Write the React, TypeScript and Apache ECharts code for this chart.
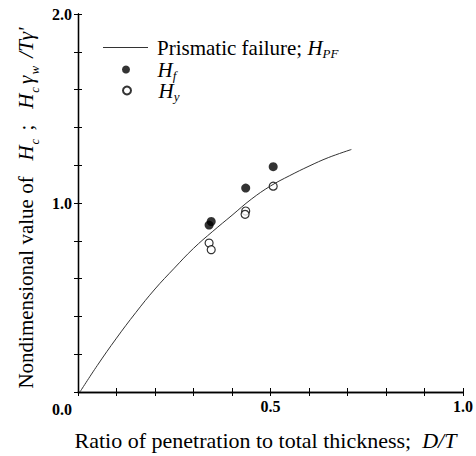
import React, { useEffect, useRef } from "react";
import * as echarts from "echarts";

const curveX = [0.005, 0.05, 0.1, 0.15, 0.2, 0.25, 0.3, 0.35, 0.4, 0.45, 0.5, 0.55, 0.6, 0.65, 0.71];
const curveY = [0, 0.14, 0.285, 0.42, 0.545, 0.655, 0.76, 0.85, 0.935, 1.02, 1.09, 1.145, 1.195, 1.24, 1.283];

const hfX = [0.3405, 0.346, 0.4356, 0.507];
const hfY = [0.883, 0.902, 1.079, 1.192];

const hyX = [0.3405, 0.346, 0.4356, 0.434, 0.507];
const hyY = [0.788, 0.753, 0.9575, 0.94, 1.089];

const xTickLabels = ["0.5", "1.0"];
const yTickLabels = ["1.0", "2.0"];
const originLabel = "0.0";

const seriesNames = ["Prismatic failure; HPF", "Hf", "Hy"];
const legendRich: Record<string, string> = {
  "Prismatic failure; HPF": "Prismatic failure; {i|H}{s|PF}",
  Hf: "{i|H}{s|f}",
  Hy: "{i|H}{s|y}",
};
const legendIcons = ["path://M0,0H45V1H0Z", "circle", "circle"];

const FONT = "'Liberation Serif', 'Times New Roman', Times, serif";

export default function App() {
  const ref = useRef<HTMLDivElement>(null);
  useEffect(() => {
    if (!ref.current) return;
    const chart = echarts.init(ref.current, undefined, { renderer: "svg" });
    const fmtX = (v: number) => {
      const s = v.toFixed(1);
      return xTickLabels.includes(s) ? s : "";
    };
    const fmtY = (v: number) => {
      const s = v.toFixed(1);
      return yTickLabels.includes(s) ? s : "";
    };
    const subRich = {
      i: { fontFamily: FONT, fontStyle: "italic", fontSize: 21, color: "#000", lineHeight: 24 },
      s: { fontFamily: FONT, fontStyle: "italic", fontSize: 13, color: "#000", lineHeight: 13, verticalAlign: "bottom", padding: [0, 3, -3, 1] },
      n: { fontFamily: FONT, fontSize: 21, color: "#000", lineHeight: 24 },
    };
    const tickCommon = {
      axisLine: { show: true, lineStyle: { color: "#000", width: 1.3 } },
      axisTick: { show: true, inside: true, length: 4, lineStyle: { color: "#000", width: 1 } },
      splitLine: { show: false },
    };
    const legendTops = [37, 59, 80];
    const legendLefts = [103, 122, 122];
    const legends = seriesNames.map((name, k) => ({
      orient: "vertical",
      left: legendLefts[k],
      top: legendTops[k],
      padding: 0,
      itemWidth: 45,
      itemHeight: 8,
      itemGap: 0,
      selectedMode: false,
      data: [{ name, icon: legendIcons[k] }],
      formatter: (n: string) => legendRich[n],
      textStyle: {
        fontFamily: FONT,
        fontSize: 21,
        color: "#000",
        lineHeight: 19,
        padding: [0, 0, 0, 4],
        rich: {
          i: { fontFamily: FONT, fontStyle: "italic", fontSize: 21, color: "#000", lineHeight: 19 },
          s: { fontFamily: FONT, fontStyle: "italic", fontSize: 13, color: "#000", lineHeight: 13, verticalAlign: "bottom", padding: [0, 0, -3, 0] },
        },
      },
    }));
    chart.setOption({
      animation: false,
      backgroundColor: "#fff",
      grid: { left: 78, right: 13, top: 14, bottom: 58, containLabel: false },
      legend: legends,
      xAxis: [
        {
          type: "value",
          min: 0,
          max: 1,
          interval: 0.1,
          position: "bottom",
          ...tickCommon,
          axisLabel: { formatter: fmtX, fontFamily: FONT, fontSize: 16, fontWeight: "bold", color: "#000", margin: 6 },
          name: "Ratio of penetration to total thickness;  {i|D/T}",
          nameLocation: "middle",
          nameGap: 37,
          nameTextStyle: {
            fontFamily: FONT,
            fontSize: 22,
            color: "#000",
            padding: [0, 10, 0, 0],
            rich: { i: { fontFamily: FONT, fontStyle: "italic", fontSize: 22, color: "#000" } },
          },
        },
        {
          type: "value",
          min: 0,
          max: 1,
          interval: 0.1,
          position: "top",
          ...tickCommon,
          axisLabel: { show: false },
        },
      ],
      yAxis: [
        {
          type: "value",
          min: 0,
          max: 2,
          interval: 0.2,
          position: "left",
          ...tickCommon,
          axisLabel: { formatter: fmtY, fontFamily: FONT, fontSize: 16, fontWeight: "bold", color: "#000", margin: 6 },
          name: "{n|Nondimensional value of   }{i|H}{s|c}{n| ;   }{i|H}{s|c}{i|γ}{s|w}{i| /Tγ'}",
          nameLocation: "middle",
          nameRotate: 90,
          nameGap: 38,
          nameTextStyle: {
            fontFamily: FONT,
            fontSize: 21,
            color: "#000",
            padding: [0, 10, 0, 0],
            rich: subRich,
          },
        },
        {
          type: "value",
          min: 0,
          max: 2,
          interval: 0.2,
          position: "right",
          ...tickCommon,
          axisLabel: { show: false },
        },
      ],
      graphic: [
        {
          type: "text",
          left: 52,
          top: 401,
          style: { text: originLabel, fontFamily: FONT, fontSize: 16, fontWeight: "bold", fill: "#000" },
        },
      ],
      series: [
        {
          name: seriesNames[0],
          type: "line",
          xAxisIndex: 0,
          yAxisIndex: 0,
          data: curveX.map((x, i) => [x, curveY[i]]),
          smooth: 0.4,
          symbol: "none",
          showSymbol: false,
          lineStyle: { color: "#333", width: 1 },
          itemStyle: { color: "#333" },
        },
        {
          name: seriesNames[1],
          type: "scatter",
          xAxisIndex: 0,
          yAxisIndex: 0,
          symbol: "circle",
          symbolSize: 9,
          data: hfX.map((x, i) => [x, hfY[i]]),
          itemStyle: { color: "#000" },
        },
        {
          name: seriesNames[2],
          type: "scatter",
          xAxisIndex: 0,
          yAxisIndex: 0,
          symbol: "circle",
          symbolSize: 8,
          data: hyX.map((x, i) => [x, hyY[i]]),
          itemStyle: { color: "#fff", borderColor: "#000", borderWidth: 1.2 },
        },
      ],
    });
    return () => chart.dispose();
  }, []);
  return <div ref={ref} style={{ position: "fixed", left: 0, top: 0, width: 476, height: 456 }} />;
}
